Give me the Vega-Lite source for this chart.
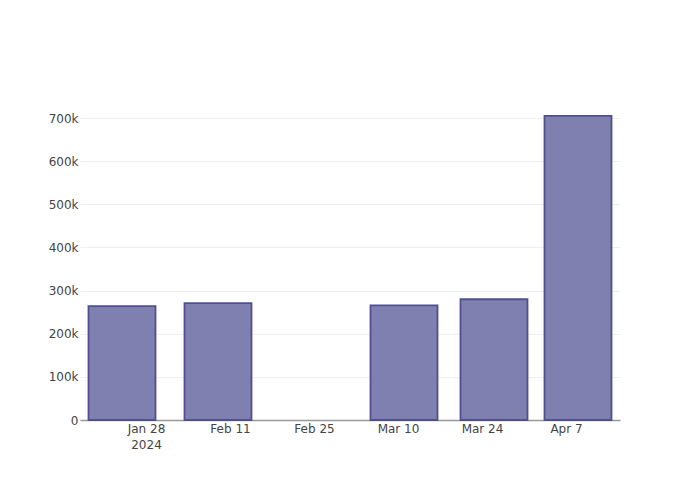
{
  "$schema": "https://vega.github.io/schema/vega-lite/v6.json",
  "width": 540,
  "height": 320,
  "autosize": "none",
  "padding": {"left": 80, "top": 100, "right": 80, "bottom": 80},
  "background": "white",
  "config": {
    "view": {"stroke": null},
    "font": "DejaVu Sans"
  },
  "data": {
    "values": [
      {"date": "2024-01-24", "value": 264000},
      {"date": "2024-02-09", "value": 271000},
      {"date": "2024-03-11", "value": 266000},
      {"date": "2024-03-26", "value": 280000},
      {"date": "2024-04-09", "value": 705000}
    ]
  },
  "mark": {"type": "bar", "width": 67, "fill": "#7f7fb0", "stroke": "#50508f", "strokeWidth": 1.8},
  "encoding": {
    "x": {
      "field": "date",
      "type": "temporal",
      "scale": {"type": "utc", "padding": 0, "domain": ["2024-01-17T00:00:00Z", "2024-04-16T00:00:00Z"]},
      "axis": {
        "title": null,
        "values": ["2024-01-28T00:00:00Z", "2024-02-11T00:00:00Z", "2024-02-25T00:00:00Z", "2024-03-10T00:00:00Z", "2024-03-24T00:00:00Z", "2024-04-07T00:00:00Z"],
        "labelExpr": "datum.index == 0 ? [utcFormat(datum.value, '%b %-d'), '2024'] : utcFormat(datum.value, '%b %-d')",
        "grid": false,
        "ticks": false,
        "domainColor": "#999999",
        "domainWidth": 1.5,
        "labelFont": "DejaVu Sans",
        "labelFontSize": 12,
        "labelColor": "#444444",
        "labelPadding": 3,
        "labelLineHeight": 16
      }
    },
    "y": {
      "field": "value",
      "type": "quantitative",
      "scale": {"domain": [0, 742000], "nice": false},
      "axis": {
        "title": null,
        "values": [0, 100000, 200000, 300000, 400000, 500000, 600000, 700000],
        "labelExpr": "datum.value == 0 ? '0' : format(datum.value, '~s')",
        "domain": false,
        "ticks": false,
        "gridColor": "#eeeeee",
        "gridWidth": 1,
        "labelFont": "DejaVu Sans",
        "labelFontSize": 12,
        "labelColor": "#444444",
        "labelPadding": 2
      }
    }
  }
}
